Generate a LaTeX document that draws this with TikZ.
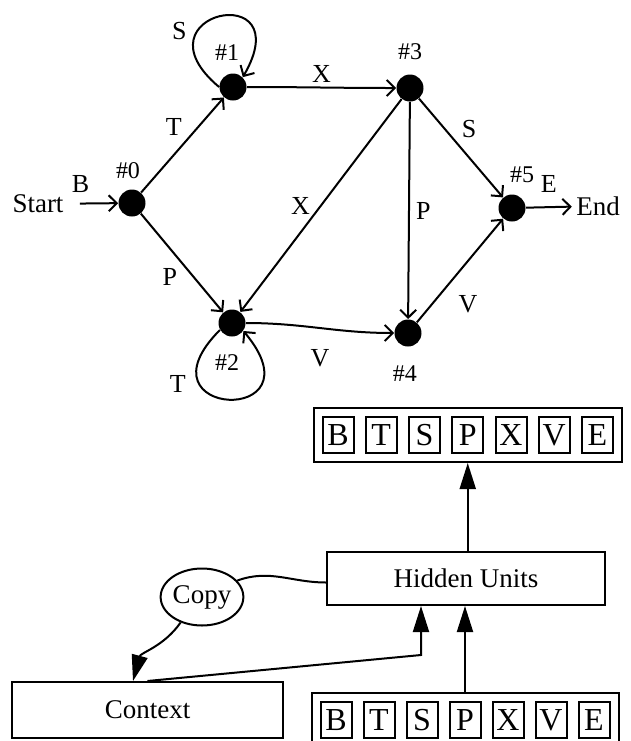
\documentclass[tikz,border=0pt]{standalone}
\usepackage{fontspec}
\setmainfont{Liberation Serif}
\usetikzlibrary{arrows.meta,fit,positioning,shapes.geometric}
\tikzset{
  state/.style={circle,fill=black,inner sep=0pt,minimum size=13.5pt},
  move/.style={-{Straight Barb[length=4pt,width=8pt]},line width=1pt},
  trans/.style={font=\fontsize{13}{15}\selectfont,inner sep=2pt},
  statenum/.style={font=\fontsize{12}{14}\selectfont,inner sep=1pt},
  terminal/.style={font=\fontsize{13.5}{15}\selectfont,inner sep=2pt},
  feed/.style={-{Triangle[length=13pt,width=8pt]},line width=1pt},
  unit/.style={draw,line width=1pt,font=\fontsize{13.5}{15}\selectfont,inner sep=0pt},
  cell/.style={draw,line width=1pt,minimum width=15.5pt,minimum height=18pt,inner sep=0pt,font=\fontsize{16}{18}\selectfont},
  layer/.style={draw,line width=1pt,inner sep=4pt}
}

\begin{document}
\begin{tikzpicture}[x=0.5pt,y=-0.5pt]
  \useasboundingbox (0,0) rectangle (631,741);

  % grammar states
  \node[state] (n0) at (132,203) {};
  \node[state] (n1) at (233,87) {};
  \node[state] (n2) at (232,323) {};
  \node[state] (n3) at (410,88) {};
  \node[state] (n4) at (408,333) {};
  \node[state] (n5) at (512,208) {};
  \node[statenum,above=4pt of n0,xshift=-2pt] (l0) {\#0};
  \node[statenum,above=5pt of n1,xshift=-3pt] (l1) {\#1};
  \node[statenum,below=7.5pt of n2,xshift=-2.5pt] (l2) {\#2};
  \node[statenum,above=6pt of n3] (l3) {\#3};
  \node[statenum,below=8pt of n4,xshift=-1.5pt] (l4) {\#4};
  \node[statenum,above=4.5pt of n5,xshift=5pt] (l5) {\#5};

  \node[terminal] (start) at (38,204) {Start};
  \node[terminal] (end) at (598,206) {End};

  \draw[move,shorten <=6pt] (start) -- node[trans,pos=0.25,above=3pt] {B} (n0);
  \draw[move] (n5) -- node[trans,pos=0.5,above=5pt] {E} (end);
  \draw[move] (n0) -- node[trans,pos=0.55,above left] {T} (n1);
  \draw[move] (n0) -- node[trans,pos=0.5,below left] {P} (n2);
  \draw[move] (n1) to[out=0,in=180] node[trans,pos=0.5,above] {X} (n3);
  \draw[move] (n3) -- node[trans,pos=0.5,left=3pt] {X} (n2);
  \draw[move] (n3) -- node[trans,pos=0.5,right=1pt] {P} (n4);
  \draw[move] (n3) -- node[trans,pos=0.45,above right] {S} (n5);
  \draw[move] (n2) to[out=0,in=180] node[trans,pos=0.5,below=8pt] {V} (n4);
  \draw[move] (n4) -- node[trans,pos=0.36,below right=4pt] {V} (n5);
  % self loops
  \draw[move] (n1.west) to[out=140,in=60,min distance=58pt] node[trans,pos=0.32,left=3pt] {S} (n1.45);
  \draw[move] (n2.210) to[out=225,in=-50,min distance=62.5pt] node[trans,pos=0.27,left=4pt] {T} (n2.-35);

  % network layers
  \foreach \sym [count=\i] in {B,T,S,P,X,V,E} {
    \node[cell] (out\i) at ({338+43.25*(\i-1)},435) {\sym};
    \node[cell] (in\i) at ({336+43*(\i-1)},720) {\sym};
  }
  \node[layer,fit=(out1)(out7)] (outvec) {};
  \node[layer,fit=(in1)(in7)] (invec) {};
  \node[unit,minimum width=139pt,minimum height=26.5pt] (hidden) at (466,578.5) {Hidden Units};
  \node[unit,ellipse,minimum width=38.5pt,minimum height=28.5pt] (copy) at (202,597) {Copy};
  \node[unit,minimum width=135.5pt,minimum height=28pt] (context) at (147.5,710) {Context};
  \coordinate (kink) at (421,655);

  \draw[feed] (hidden.north -| outvec.south) -- (outvec.south);
  \draw[feed] (invec.north) -- (invec.north |- hidden.south);
  \draw[feed] (context.north) -- (kink) -- (kink |- hidden.south);
  \draw[line width=1pt] ([yshift=-2pt]hidden.west) to[out=180,in=20] (copy.25);
  \draw[feed] (copy.230) to[out=235,in=75] ([xshift=-7.25pt]context.north);
\end{tikzpicture}
\end{document}
